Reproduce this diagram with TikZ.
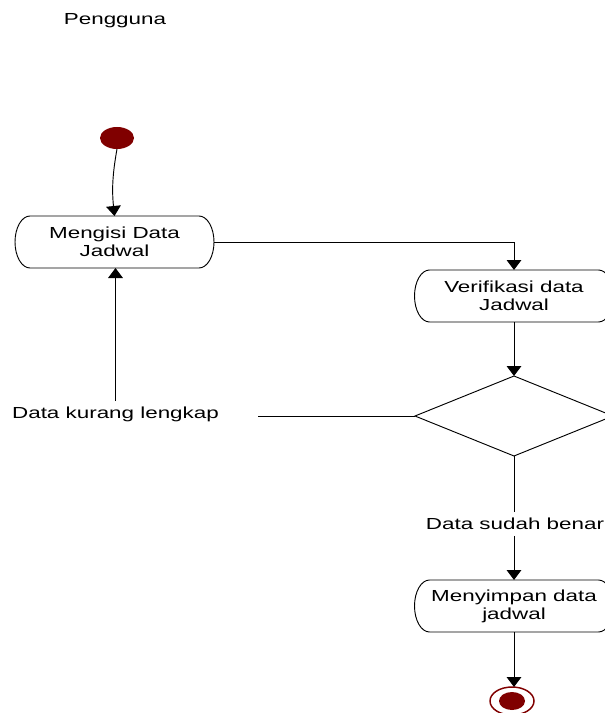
\documentclass[tikz,border=0pt]{standalone}
\usepackage{fontspec}
\setmainfont{Liberation Sans}[FakeStretch=1.4]
\usetikzlibrary{arrows.meta,shapes.geometric}
\definecolor{darkred}{HTML}{800000}
\tikzset{
  x=0.75pt, y=0.75pt,
  every node/.style={font=\fontsize{12pt}{13.5pt}\selectfont},
  line/.style={draw=black, line width=0.7pt},
  flow/.style={line, -{Triangle[width=11pt,length=7.5pt]}},
  actbox/.style={rectangle, draw=none, outer sep=0pt, inner sep=0pt,
                 minimum width=149.25pt, minimum height=39pt, align=center},
  decide/.style={diamond, draw=black, line width=0.7pt, outer sep=0pt, inner sep=0pt,
                 minimum width=148.5pt, minimum height=60pt},
  guard/.style={inner xsep=0pt, inner ysep=4.5pt, outer sep=0pt},
  startdot/.style={ellipse, fill=darkred, draw=none, minimum width=25.5pt,
                   minimum height=16.5pt, inner sep=0pt, outer sep=0pt},
  stopring/.style={ellipse, draw=darkred, line width=1.1pt, minimum width=33pt,
                   minimum height=21pt, inner sep=0pt, outer sep=0pt},
}
% rounded activity outline with half-elliptic ends around a named node
\newcommand{\actoutline}[1]{%
  \draw[line] ([xshift=11.25pt]#1.north west) -- ([xshift=-11.25pt]#1.north east)
    arc[start angle=90, end angle=-90, x radius=11.25pt, y radius=19.5pt]
    -- ([xshift=11.25pt]#1.south west)
    arc[start angle=270, end angle=90, x radius=11.25pt, y radius=19.5pt] -- cycle;}
\begin{document}
\begin{tikzpicture}
\useasboundingbox (0,0) rectangle (605,-713);
\clip (0,0) rectangle (605,-713);

% swimlane title
\node (lane) at (115,-21) {Pengguna};

% initial state
\node[startdot] (start) at (117,-138) {};

% activities
\node[actbox] (isi) at (114.5,-242) {Mengisi Data\\Jadwal};
\actoutline{isi}
\node[actbox] (verif) at (514,-296) {Verifikasi data\\Jadwal};
\actoutline{verif}
\node[decide] (cek) at (514,-416) {};
\node[actbox] (simpan) at (514,-606) {Menyimpan data\\jadwal};
\actoutline{simpan}

% final state
\node[stopring] (stop) at (512,-701) {};
\fill[darkred] (stop.center) ellipse[x radius=9.75pt, y radius=6.75pt];

% guard labels
\node[guard] (kurang) at (115.5,-414.5) {Data kurang lengkap};
\node[guard] (benar) at (515,-524) {Data sudah benar};
\coordinate (kend) at (258,-416);

% transitions
\draw[flow] (start.south) to[bend right=8] (isi.north);
\draw[flow] (isi.east) -| (verif.north);
\draw[flow] (verif.south) -- (cek.north);
\draw[line] (cek.west) -- (kend);
\draw[flow] (kurang.north) -- (kurang.north |- isi.south);
\draw[line] (cek.south) -- (benar.north -| cek.south);
\draw[flow] (benar.south -| simpan.north) -- (simpan.north);
\draw[flow] (simpan.south) -- (simpan.south |- stop.north);
\end{tikzpicture}
\end{document}
